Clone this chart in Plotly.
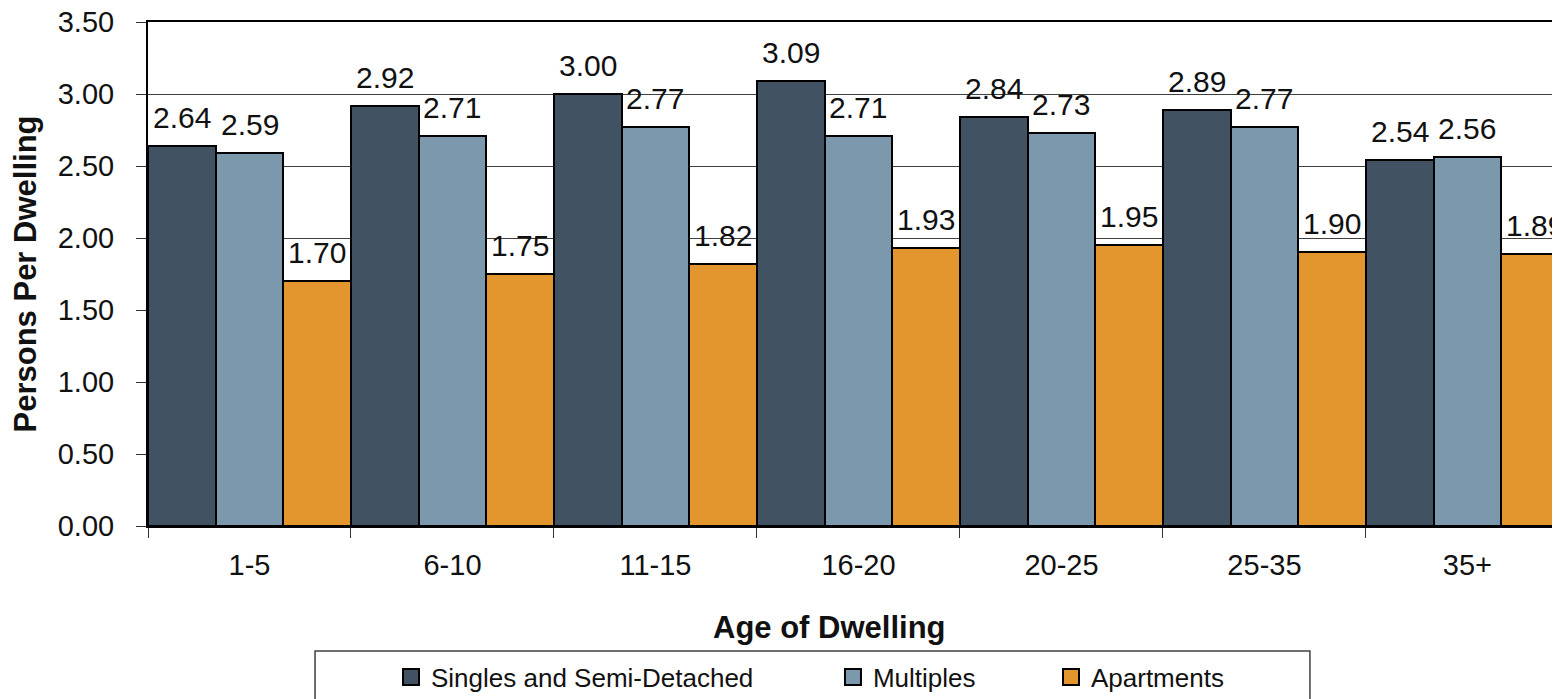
import plotly.graph_objects as go

categories = ["1-5", "6-10", "11-15", "16-20", "20-25", "25-35", "35+"]
singles = [2.64, 2.92, 3.00, 3.09, 2.84, 2.89, 2.54]
multiples = [2.59, 2.71, 2.77, 2.71, 2.73, 2.77, 2.56]
apartments = [1.70, 1.75, 1.82, 1.93, 1.95, 1.90, 1.89]
series_names = ["Singles and Semi-Detached", "Multiples", "Apartments"]
y_tick_values = [0.0, 0.5, 1.0, 1.5, 2.0, 2.5, 3.0, 3.5]
y_title = "Persons Per Dwelling"
x_title = "Age of Dwelling"

colors = ["#415263", "#7C98AD", "#E3962E"]
FONT = "Arial, Liberation Sans, sans-serif"
series_values = [singles, multiples, apartments]
legend_ids = ["legend", "legend2", "legend3"]
legend_x = [0.1721, 0.4851, 0.6395]

fig = go.Figure()
for name, vals, col, lid in zip(series_names, series_values, colors, legend_ids):
    fig.add_trace(go.Bar(
        x=categories, y=vals, name=name, legendgroup=name, showlegend=False,
        marker=dict(color=col, line=dict(color="#000000", width=2)),
    ))
# legend entries with larger square swatches (no data of their own)
for name, col, lid in zip(series_names, colors, legend_ids):
    fig.add_trace(go.Scatter(
        x=[None], y=[None], mode="markers", name=name, legendgroup=name,
        legend=lid, showlegend=True, hoverinfo="skip",
        marker=dict(symbol="square", size=16, color=col,
                    line=dict(color="#000000", width=2)),
    ))

annotations = []
n_series = len(series_values)
for k, vals in enumerate(series_values):
    off = (k - (n_series - 1) / 2) / n_series
    for i, v in enumerate(vals):
        annotations.append(dict(
            x=i + off, y=v, xref="x", yref="y", text=f"{v:.2f}",
            showarrow=False, xanchor="center", yanchor="bottom", yshift=10,
            font=dict(family=FONT, size=30, color="#111111"),
        ))

annotations.append(dict(
    x=0.483, y=-0.2004, xref="paper", yref="paper", text="<b>" + x_title + "</b>",
    showarrow=False, xanchor="center", yanchor="middle",
    font=dict(family=FONT, size=31, color="#111111"),
))

layout_legends = {}
for lid, lx in zip(legend_ids, legend_x):
    layout_legends[lid] = dict(
        x=lx, y=-0.2996, xanchor="left", yanchor="middle", orientation="h",
        font=dict(family=FONT, size=26, color="#111111"),
        bgcolor="rgba(0,0,0,0)", borderwidth=0, visible=True,
        itemsizing="trace",
    )

fig.update_layout(
    width=1552, height=691,
    margin=dict(l=140, r=0, t=14, b=173, autoexpand=False),
    paper_bgcolor="white", plot_bgcolor="white",
    showlegend=True,
    barmode="group", bargap=0, bargroupgap=0,
    font=dict(family=FONT, size=29, color="#111111"),
    annotations=annotations,
    shapes=[dict(type="rect", xref="paper", yref="paper",
                 x0=0.1183, x1=0.8229, y0=-0.365, y1=-0.248,
                 line=dict(color="#404040", width=1.5),
                 fillcolor="rgba(0,0,0,0)", layer="below")],
    **layout_legends,
)

fig.update_xaxes(
    type="category", range=[-0.5, 6.456],
    showline=True, linecolor="#000000", linewidth=2, mirror=True,
    showgrid=False, ticks="outside", tickson="boundaries", ticklen=10,
    tickcolor="#333333", tickwidth=1, ticklabelstandoff=12,
    ticklabeloverflow="allow",
    tickfont=dict(family=FONT, size=29, color="#111111"),
)
fig.update_yaxes(
    range=[0, 3.5], tickvals=y_tick_values, tickformat=".2f",
    showline=True, linecolor="#000000", linewidth=2, mirror=False,
    showgrid=True, gridcolor="#404040", gridwidth=1, zeroline=False,
    ticks="outside", ticklen=10, tickcolor="#333333", tickwidth=1,
    ticklabelstandoff=16, ticklabeloverflow="allow",
    tickfont=dict(family=FONT, size=29, color="#111111"),
    title=dict(text="<b>" + y_title + "</b>", standoff=16,
               font=dict(family=FONT, size=31, color="#111111")),
)

fig.write_html("out.html")
